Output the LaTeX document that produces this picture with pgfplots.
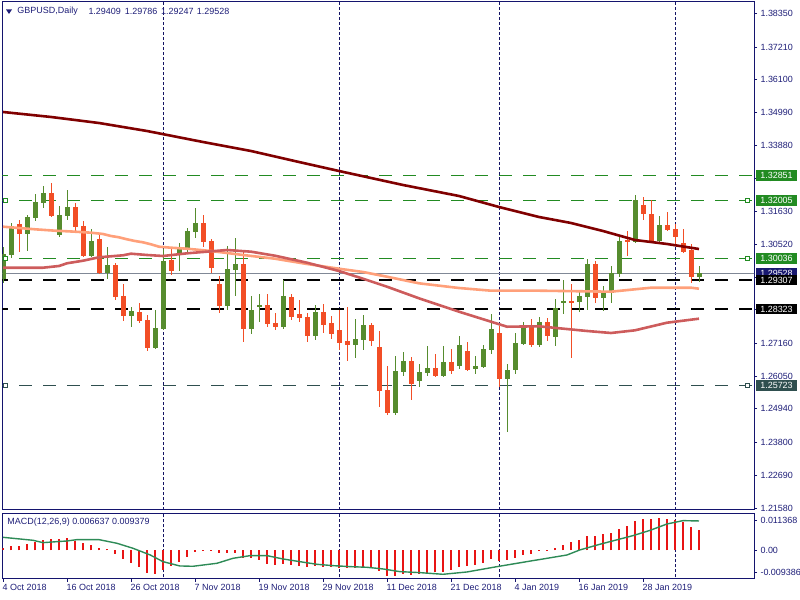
\documentclass[border=0pt]{standalone}
\usepackage{fontspec}
\setmainfont{Liberation Sans}
\usepackage{pgfplots}
\usepackage{pgfplotstable}
\pgfplotsset{compat=1.18}
\definecolor{cgreen}{RGB}{86,140,46}
\definecolor{cred}{RGB}{242,78,38}
\definecolor{navyt}{RGB}{30,30,120}
\definecolor{framec}{RGB}{20,20,110}
\definecolor{sepc}{RGB}{20,20,100}
\definecolor{mamaroon}{RGB}{128,0,0}
\definecolor{masalmon}{RGB}{255,160,122}
\definecolor{maind}{RGB}{205,92,92}
\definecolor{lvgreen}{RGB}{34,139,34}
\definecolor{lvslate}{RGB}{47,79,79}
\definecolor{curgray}{RGB}{128,136,150}
\definecolor{macdline}{RGB}{46,139,87}
\definecolor{histred}{RGB}{232,20,20}
\definecolor{boxnavy}{RGB}{25,25,112}
\newcommand{\tf}{\fontsize{9}{10}\selectfont}

\pgfplotstableread{
i O H L C
0 1.29343 1.30439 1.29196 1.30179
1 1.30157 1.31253 1.30066 1.31140
3 1.30868 1.31513 1.30292 1.31445
4 1.31411 1.32213 1.31320 1.31953
5 1.31931 1.32507 1.31761 1.32258
7 1.30835 1.31818 1.30778 1.31513
8 1.31479 1.32360 1.31343 1.31784
11 1.30123 1.31038 1.30089 1.30631
13 1.29546 1.30428 1.29343 1.29818
16 1.28089 1.28394 1.27716 1.28258
19 1.27004 1.28292 1.26970 1.27682
20 1.27648 1.30360 1.27614 1.29953
22 1.30190 1.30563 1.29614 1.30428
23 1.30360 1.31083 1.30213 1.30970
24 1.30936 1.31750 1.30733 1.31241
28 1.28428 1.30462 1.28292 1.29682
29 1.29648 1.30733 1.28767 1.29851
31 1.27648 1.28767 1.27478 1.28292
32 1.28394 1.28834 1.27885 1.28462
35 1.27716 1.29309 1.27648 1.28767
39 1.27411 1.28462 1.27275 1.28224
44 1.27106 1.27987 1.26665 1.27309
45 1.27275 1.28123 1.26936 1.27784
49 1.24800 1.26733 1.24733 1.26224
50 1.26190 1.26868 1.26055 1.26563
52 1.25885 1.26461 1.25682 1.26190
53 1.26156 1.27072 1.26055 1.26326
55 1.26055 1.27072 1.26021 1.26529
57 1.26394 1.27411 1.26292 1.27106
59 1.26292 1.26733 1.26122 1.26394
60 1.26360 1.27106 1.26326 1.26970
61 1.26936 1.28156 1.26800 1.27648
63 1.25953 1.26461 1.24156 1.26258
64 1.26258 1.27512 1.26122 1.27173
65 1.27139 1.27885 1.27106 1.27716
67 1.27106 1.28055 1.27038 1.27885
69 1.27377 1.28665 1.27072 1.28360
70 1.28529 1.29309 1.28156 1.28597
72 1.28563 1.28970 1.28224 1.28767
73 1.28733 1.30021 1.28292 1.29851
75 1.28699 1.29106 1.28258 1.28902
76 1.28868 1.29784 1.28529 1.29546
77 1.29512 1.30801 1.29411 1.30631
79 1.30597 1.32191 1.30563 1.32021
82 1.30631 1.31479 1.30563 1.31174
87 1.29409 1.29786 1.29247 1.29528
}\bull

\pgfplotstableread{
i O H L C
2 1.31207 1.31343 1.30270 1.30868
6 1.32258 1.32597 1.31445 1.31479
9 1.31784 1.31919 1.30948 1.31106
10 1.31140 1.31309 1.30089 1.30123
12 1.30699 1.30835 1.29512 1.29546
14 1.29818 1.29885 1.28631 1.28733
15 1.28767 1.29173 1.27919 1.28089
17 1.28224 1.28529 1.27851 1.27919
18 1.27953 1.28123 1.26902 1.27004
21 1.29987 1.30428 1.29479 1.29614
25 1.31241 1.31513 1.30428 1.30597
26 1.30631 1.30699 1.29546 1.29716
27 1.29173 1.29445 1.28190 1.28428
30 1.29851 1.30292 1.27207 1.27648
33 1.28462 1.28834 1.27716 1.27817
34 1.27851 1.28190 1.27614 1.27716
36 1.28733 1.28834 1.27953 1.28055
37 1.28156 1.28631 1.27885 1.28021
38 1.28055 1.28190 1.27207 1.27411
40 1.28224 1.28495 1.27512 1.27784
41 1.27851 1.28089 1.27309 1.27478
42 1.27614 1.28292 1.26936 1.27173
43 1.27241 1.28394 1.26563 1.27106
46 1.27784 1.27851 1.27072 1.27241
47 1.27038 1.27580 1.25004 1.25546
48 1.25580 1.26394 1.24733 1.24800
51 1.26563 1.26699 1.25241 1.25783
54 1.26326 1.26800 1.26021 1.26055
56 1.26529 1.26970 1.26122 1.26224
58 1.26902 1.27207 1.26224 1.26258
62 1.27512 1.27750 1.25682 1.25953
66 1.27750 1.27987 1.27038 1.27106
68 1.27885 1.28021 1.27241 1.27411
71 1.28597 1.29173 1.26665 1.28563
74 1.29851 1.29953 1.28529 1.28699
78 1.30665 1.30970 1.30123 1.30597
80 1.31852 1.32123 1.31343 1.31546
81 1.31546 1.32021 1.30563 1.30631
83 1.31174 1.31614 1.30970 1.31004
84 1.31038 1.31207 1.30496 1.30767
85 1.30563 1.31038 1.30240 1.30258
86 1.30326 1.30529 1.29207 1.29411
}\bear

\pgfplotstableread{
i v
0 0.00086
1 0.00151
2 0.00151
3 0.00215
4 0.00280
5 0.00344
6 0.00376
7 0.00376
8 0.00409
9 0.00312
10 0.00247
11 0.00183
12 0.00086
13 0.00032
14 -0.00129
15 -0.00280
16 -0.00419
17 -0.00538
18 -0.00720
19 -0.00753
20 -0.00624
21 -0.00495
22 -0.00366
23 -0.00204
24 -0.00043
25 0.00005
26 -0.00032
27 -0.00097
28 -0.00097
29 -0.00075
30 -0.00258
31 -0.00258
32 -0.00323
33 -0.00441
34 -0.00473
35 -0.00441
36 -0.00473
37 -0.00505
38 -0.00538
39 -0.00505
40 -0.00538
41 -0.00538
42 -0.00570
43 -0.00570
44 -0.00570
45 -0.00570
46 -0.00570
47 -0.00656
48 -0.00817
49 -0.00817
50 -0.00753
51 -0.00785
52 -0.00753
53 -0.00720
54 -0.00688
55 -0.00688
56 -0.00624
57 -0.00527
58 -0.00495
59 -0.00462
60 -0.00398
61 -0.00269
62 -0.00333
63 -0.00301
64 -0.00237
65 -0.00151
66 -0.00108
67 -0.00022
68 0.00003
69 0.00086
70 0.00183
71 0.00280
72 0.00344
73 0.00473
74 0.00473
75 0.00538
76 0.00570
77 0.00699
78 0.00796
79 0.00957
80 0.01022
81 0.01022
82 0.01054
83 0.01022
84 0.00989
85 0.00925
86 0.00763
87 0.00664
}\hist

\begin{document}
\begin{tikzpicture}[x=1bp,y=1bp]
\begin{axis}[
  at={(2.3bp,90bp)}, anchor=south west,
  width=751.7bp, height=508bp, scale only axis,
  xmin=-0.0875, xmax=93.875, ymin=1.21513, ymax=1.38733,
  axis line style={framec, line width=1bp},
  xtick=\empty,
  ytick pos=right, yticklabel pos=right,
  tick align=outside, major tick length=3bp,
  tick style={framec, line width=0.8bp},
  scaled y ticks=false,
  ytick={1.38350,1.37210,1.36100,1.34990,1.33880,1.32740,1.31630,1.30520,1.29410,1.28300,1.27160,1.26050,1.24940,1.23800,1.22690,1.21580},
  yticklabels={1.38350,1.37210,1.36100,1.34990,1.33880,1.32740,1.31630,1.30520,,,1.27160,1.26050,1.24940,1.23800,1.22690,1.21580},
  yticklabel style={font=\tf, text=navyt},
  /pgf/number format/assume math mode=true,
]
% month separators
\addplot[sepc, line width=1bp, dash pattern=on 3bp off 2bp, forget plot] coordinates {(20,1.2) (20,1.4)};
\addplot[sepc, line width=1bp, dash pattern=on 3bp off 2bp, forget plot] coordinates {(42,1.2) (42,1.4)};
\addplot[sepc, line width=1bp, dash pattern=on 3bp off 2bp, forget plot] coordinates {(62,1.2) (62,1.4)};
\addplot[sepc, line width=1bp, dash pattern=on 3bp off 2bp, forget plot] coordinates {(84,1.2) (84,1.4)};
% horizontal levels
\addplot[lvgreen, line width=1.4bp, dash pattern=on 13bp off 11bp] coordinates {(-1,1.32851) (95,1.32851)};
\addplot[lvgreen, line width=1.4bp, dash pattern=on 13bp off 11bp] coordinates {(-1,1.32005) (95,1.32005)};
\addplot[lvgreen, line width=1.4bp, dash pattern=on 13bp off 11bp] coordinates {(-1,1.30036) (95,1.30036)};
\addplot[curgray, line width=1.4bp] coordinates {(-1,1.29528) (95,1.29528)};
\addplot[black, line width=1.5bp, dash pattern=on 13bp off 11bp] coordinates {(-1,1.29307) (95,1.29307)};
\addplot[black, line width=1.5bp, dash pattern=on 13bp off 11bp] coordinates {(-1,1.28323) (95,1.28323)};
\addplot[lvslate, line width=1.4bp, dash pattern=on 13bp off 11bp] coordinates {(-1,1.25723) (95,1.25723)};
% candles: wicks
\addplot[draw=none, no markers, error bars/.cd, y dir=both, y explicit, error mark=none,
  error bar style={draw=cgreen, line width=1bp, solid}]
  table[x=i, y expr={(\thisrow{H}+\thisrow{L})/2}, y error expr={(\thisrow{H}-\thisrow{L})/2}] {\bull};
\addplot[draw=none, no markers, error bars/.cd, y dir=both, y explicit, error mark=none,
  error bar style={draw=cred, line width=1bp, solid}]
  table[x=i, y expr={(\thisrow{H}+\thisrow{L})/2}, y error expr={(\thisrow{H}-\thisrow{L})/2}] {\bear};
% candles: bodies
\addplot[draw=none, no markers, error bars/.cd, y dir=both, y explicit, error mark=none,
  error bar style={draw=cgreen, line width=5bp, solid}]
  table[x=i, y expr={(\thisrow{O}+\thisrow{C})/2}, y error expr={(\thisrow{C}-\thisrow{O})/2+0.00012}] {\bull};
\addplot[draw=none, no markers, error bars/.cd, y dir=both, y explicit, error mark=none,
  error bar style={draw=cred, line width=5bp, solid}]
  table[x=i, y expr={(\thisrow{O}+\thisrow{C})/2}, y error expr={(\thisrow{O}-\thisrow{C})/2+0.00012}] {\bear};
% moving averages
\addplot[masalmon, line width=2.6bp] coordinates {(0,1.31116) (4,1.31028) (6.5,1.30981) (9,1.30947) (11,1.30913) (12.5,1.30869) (13.5,1.30801) (14.5,1.30757) (15.5,1.30689) (16.5,1.30631) (17.5,1.30587) (18.5,1.30519) (19.5,1.30438) (21,1.30404) (23,1.30370) (26,1.30292) (30,1.30157) (34,1.30031) (38,1.29852) (42,1.29692) (45,1.29581) (48,1.29421) (52,1.29197) (57,1.29038) (61,1.28947) (67,1.28947) (76,1.28913) (79,1.28994) (81,1.29048) (86,1.29048) (87,1.29014)};
\addplot[maind, line width=2.6bp] coordinates {(0,1.29726) (5,1.29726) (7,1.29784) (8,1.29876) (10,1.29963) (12,1.30079) (15,1.30147) (16,1.30201) (18,1.30157) (20,1.30123) (23,1.30214) (28,1.30326) (31,1.30269) (34,1.30133) (38,1.29896) (42,1.29614) (45,1.29353) (48,1.29082) (52,1.28689) (57,1.28235) (61,1.27896) (63,1.27726) (67,1.27740) (73,1.27581) (76,1.27513) (79,1.27604) (83,1.27862) (87,1.27998)};
\addplot[mamaroon, line width=2.6bp] coordinates {(0,1.35004) (6,1.34835) (12,1.34631) (18,1.34360) (25,1.33987) (31,1.33682) (37,1.33309) (42,1.33004) (50,1.32530) (57,1.32157) (62,1.31784) (67,1.31445) (71,1.31242) (75,1.30970) (79,1.30665) (83,1.30530) (87,1.30360)};
% level end markers
\addplot[only marks, mark=square*, mark size=2bp, lvgreen, mark options={fill=white, line width=1bp}] coordinates {(0.29,1.32005) (93.1,1.32005) (0.29,1.30036) (93.1,1.30036)};
\addplot[only marks, mark=square*, mark size=2bp, lvslate, mark options={fill=white, line width=1bp}] coordinates {(0.29,1.25723) (93.1,1.25723)};
\coordinate (b1) at (axis cs:93.875,1.32851);
\coordinate (b2) at (axis cs:93.875,1.32005);
\coordinate (b3) at (axis cs:93.875,1.30036);
\coordinate (b4) at (axis cs:93.875,1.29528);
\coordinate (b5) at (axis cs:93.875,1.29307);
\coordinate (b6) at (axis cs:93.875,1.28323);
\coordinate (b7) at (axis cs:93.875,1.25723);
\end{axis}

\begin{axis}[
  at={(2.3bp,21bp)}, anchor=south west,
  width=751.7bp, height=65.7bp, scale only axis,
  xmin=-0.0875, xmax=93.875, ymin=-0.009258, ymax=0.011935,
  axis line style={framec, line width=1bp},
  xtick={0,8,16,24,32,40,48,56,64,72,80},
  xticklabels={4 Oct 2018,16 Oct 2018,26 Oct 2018,7 Nov 2018,19 Nov 2018,29 Nov 2018,11 Dec 2018,21 Dec 2018,4 Jan 2019,16 Jan 2019,28 Jan 2019},
  xtick pos=left,
  xticklabel style={font=\tf, text=navyt, anchor=north west, inner sep=0pt, xshift=-0.5bp, yshift=-2bp},
  ytick pos=right, yticklabel pos=right,
  tick align=outside, major tick length=3bp,
  tick style={framec, line width=0.8bp},
  scaled y ticks=false,
  ytick={0.00961,0,-0.00723},
  yticklabels={0.011368,0.00,-0.009386},
  yticklabel style={font=\tf, text=navyt},
  /pgf/number format/assume math mode=true,
]
\addplot[sepc, line width=1bp, dash pattern=on 3bp off 2bp, forget plot] coordinates {(20,-0.02) (20,0.02)};
\addplot[sepc, line width=1bp, dash pattern=on 3bp off 2bp, forget plot] coordinates {(42,-0.02) (42,0.02)};
\addplot[sepc, line width=1bp, dash pattern=on 3bp off 2bp, forget plot] coordinates {(62,-0.02) (62,0.02)};
\addplot[sepc, line width=1bp, dash pattern=on 3bp off 2bp, forget plot] coordinates {(84,-0.02) (84,0.02)};
\addplot[ycomb, histred, line width=2bp, mark=none] table[x=i, y=v] {\hist};
\addplot[macdline, line width=1.4bp] coordinates {(0,0.00419) (3.75,0.00323) (5,0.00247) (8,0.00301) (9.25,0.00344) (12,0.00344) (14.25,0.00226) (16.25,0.00065) (18.4,-0.00151) (20,-0.00366) (22.1,-0.00505) (23.75,-0.00516) (26.75,-0.00419) (28.75,-0.00258) (30.9,-0.00172) (33,-0.00172) (35,-0.00280) (37.1,-0.00366) (39.25,-0.00452) (41.25,-0.00495) (43.4,-0.00527) (45.5,-0.00548) (47.5,-0.00602) (49.6,-0.00688) (52.1,-0.00720) (55,-0.00774) (58,-0.00699) (62,-0.00516) (66.25,-0.00333) (70.5,-0.00151) (72.1,0.00011) (74.6,0.00194) (78.75,0.00473) (80.9,0.00645) (83,0.00849) (85,0.00957) (87,0.00946)};
\end{axis}

% price boxes on the right scale
\tikzset{pbox/.style={anchor=west, xshift=1.7bp, font=\tf, text=white, inner xsep=4.4bp, inner ysep=0pt, minimum height=10.7bp}}
\node[pbox, fill=lvgreen] at (b1) {1.32851};
\node[pbox, fill=lvgreen] at (b2) {1.32005};
\node[pbox, fill=lvgreen] at (b3) {1.30036};
\node[pbox, fill=boxnavy] at (b4) {1.29528};
\node[pbox, fill=black] at (b5) {1.29307};
\node[pbox, fill=black] at (b6) {1.28323};
\node[pbox, fill=lvslate] at (b7) {1.25723};

% titles
\fill[navyt] (6bp,590.5bp) -- (12bp,590.5bp) -- (9bp,586bp) -- cycle;
\node[anchor=west, inner sep=0pt, font=\tf, text=navyt] at (17.3bp,588.7bp) {GBPUSD,Daily};
\node[anchor=west, inner sep=0pt, font=\tf, text=navyt] at (88.3bp,588.7bp) {1.29409};
\node[anchor=west, inner sep=0pt, font=\tf, text=navyt] at (124.7bp,588.7bp) {1.29786};
\node[anchor=west, inner sep=0pt, font=\tf, text=navyt] at (161bp,588.7bp) {1.29247};
\node[anchor=west, inner sep=0pt, font=\tf, text=navyt] at (196.7bp,588.7bp) {1.29528};
\node[anchor=west, inner sep=0pt, font=\tf, text=navyt] at (7.3bp,78bp) {MACD(12,26,9) 0.006637 0.009379};

\pgfresetboundingbox
\path[use as bounding box] (0bp,0bp) rectangle (800bp,600bp);
\end{tikzpicture}
\end{document}
